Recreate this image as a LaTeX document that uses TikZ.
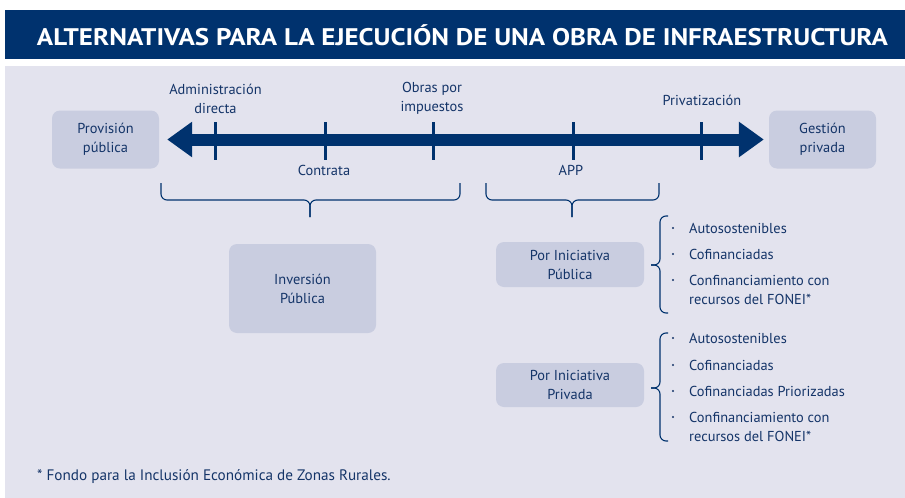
\documentclass[tikz,border=0pt]{standalone}
\usepackage{fontspec}
\setmainfont{PT Sans}
\usepackage{graphicx}
\usepackage{xcolor}
\usepackage{tikz}
\usetikzlibrary{arrows.meta}

\definecolor{navy}{RGB}{0,50,110}
\definecolor{inkblue}{RGB}{20,52,104}
\definecolor{panel}{RGB}{227,227,238}
\definecolor{boxfill}{RGB}{201,205,224}

\begin{document}
\begin{tikzpicture}%
                [x=1pt,
                y=-1pt,
                every node/.style={text=inkblue, font=\fontsize{14.4}{19}\selectfont},
                box/.style={fill=boxfill, rounded corners=8pt, align=center, inner sep=0pt},
                axis/.style={draw=navy, line width=12pt, {Triangle[length=25pt,width=34pt]}-{Triangle[length=25pt,width=34pt]}},
                tickmark/.style={draw=navy, line width=3pt},
                bracket/.style={draw=navy, line width=1.1pt, rounded corners=6pt},
                item/.style={anchor=west, align=left, inner sep=0pt},
                dot/.style={circle, fill=inkblue, inner sep=0pt, minimum size=2.2pt}]
            %
            %% Page and panels
            \useasboundingbox[fill=white] (0,0) rectangle (905,498);
            \fill[navy] (5,10) rectangle (905,59);
            \fill[panel] (5,66) rectangle (905,498);
            \node[text=white, inner sep=0pt] (titulo) at (462.5,35)
                {\resizebox{851pt}{\height}{\fontsize{24}{24}\selectfont\bfseries ALTERNATIVAS PARA LA EJECUCIÓN DE UNA OBRA DE INFRAESTRUCTURA}};
            %%
            %% The two ends of the scale
            \node[box, minimum width=107pt, minimum height=58pt] (prov) at (105.5,139.5) {Provisión\\pública};
            \node[box, minimum width=107pt, minimum height=58pt] (gest) at (822.5,139.5) {Gestión\\privada};
            \draw[axis, shorten <=8pt, shorten >=5pt] (prov.east) -- (gest.west);
            %%
            %% Ticks and their labels
            \foreach \x in {215,325,433,573,701}
                \draw[tickmark] (\x,122) -- (\x,160);
            \node[align=center] (admin) at (215.5,98.5) {Administración\\directa};
            \node[align=center] (obras) at (432,98.5) {Obras por\\impuestos};
            \node (privat) at (702,100) {Privatización};
            \node (contrata) at (324,170) {Contrata};
            \node (app) at (571,170) {APP};
            %%
            %% Braces under the scale
            \draw[bracket] (161,183) -- (161,200) -- (310,200) -- (310,217);
            \draw[bracket] (460,183) -- (460,200) -- (310,200) -- (310,217);
            \draw[bracket] (486,183) -- (486,200) -- (572,200) -- (572,217);
            \draw[bracket] (659,183) -- (659,200) -- (572,200) -- (572,217);
            %%
            %% Modalities
            \node[box, minimum width=147pt, minimum height=89pt] (inversion) at (302.5,288.5) {Inversión\\Pública};
            \node[box, minimum width=148pt, minimum height=45pt] (inipub) at (570,264.5) {Por Iniciativa\\Pública};
            \node[box, minimum width=148pt, minimum height=44pt] (inipriv) at (570,385) {Por Iniciativa\\Privada};
            %%
            %% Side braces
            \draw[bracket] (668,216) -- (660,216) -- (660,265) -- (651,265);
            \draw[bracket] (668,313) -- (660,313) -- (660,265) -- (651,265);
            \draw[bracket] (668,333) -- (660,333) -- (660,388) -- (651,388);
            \draw[bracket] (668,441) -- (660,441) -- (660,388) -- (651,388);
            %%
            %% Items of the public initiative
            \foreach \y/\t [count=\i] in {228/Autosostenibles, 254/Cofinanciadas} {
                \node[dot] (pubdot\i) at (673,\y) {};
                \node[item] (pub\i) at (689,\y) {\t};
            }
            \node[dot] (pubdot3) at (673,280) {};
            \node[item] (pub3) at (689,289.5) {Confinanciamiento con\\recursos del FONEI*};
            %%
            %% Items of the private initiative
            \foreach \y/\t [count=\i] in {338/Autosostenibles, 365/Cofinanciadas, 391/Cofinanciadas Priorizadas} {
                \node[dot] (pridot\i) at (673,\y) {};
                \node[item] (pri\i) at (689,\y) {\t};
            }
            \node[dot] (pridot4) at (673,417) {};
            \node[item] (pri4) at (689,426.5) {Confinanciamiento con\\recursos del FONEI*};
            %%
            %% Footnote
            \node[anchor=west, inner sep=0pt, font=\fontsize{15.2}{19}\selectfont] (nota) at (37,477) {* Fondo para la Inclusión Económica de Zonas Rurales.};
            %%
\end{tikzpicture}
\end{document}
